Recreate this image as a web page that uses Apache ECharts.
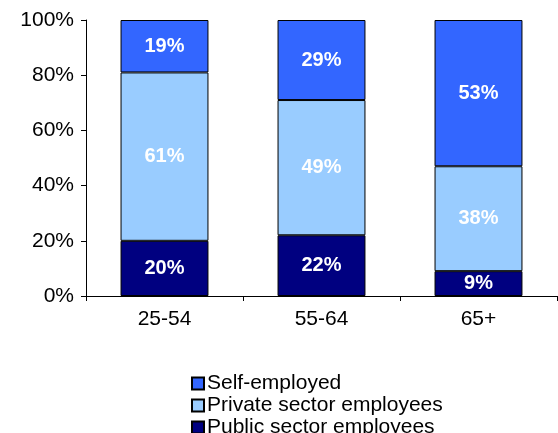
<!DOCTYPE html>
<html><head><meta charset="utf-8">
<script src="https://cdn.jsdelivr.net/npm/echarts@6/dist/echarts.min.js"></script>
<style>html,body{margin:0;background:#fff}#c{width:558px;height:433px}</style>
</head><body><div id="c"></div>
<script>
const categories = ['25-54', '55-64', '65+'];
const publicSector = [20, 22, 9];
const privateSector = [61, 49, 38];
const selfEmployed = [19, 29, 53];
const yTicks = [0, 20, 40, 60, 80, 100];

const chart = echarts.init(document.getElementById('c'));
const font = 'Arial, "Liberation Sans", sans-serif';
const mk = (name, data, color) => ({
  name, type: 'bar', stack: 'a', data, barWidth: '56%',
  itemStyle: { color, borderColor: '#000', borderWidth: 1 },
  label: { show: true, formatter: '{c}%', color: '#fff', fontWeight: 'bold', fontSize: 20, fontFamily: font },
});
chart.setOption({
  animation: false,
  grid: { left: 86, right: 1, top: 20, bottom: 137 },
  xAxis: {
    type: 'category', data: categories,
    axisLine: { lineStyle: { color: '#000' } },
    axisTick: { show: true, length: 5, lineStyle: { color: '#000' } },
    axisLabel: { color: '#000', fontSize: 21, fontFamily: font, margin: 13 },
  },
  yAxis: {
    type: 'value', min: 0, max: 100, interval: 20,
    axisLine: { show: true, lineStyle: { color: '#000' } },
    axisTick: { show: true, length: 5, lineStyle: { color: '#000' } },
    splitLine: { show: false },
    axisLabel: { color: '#000', fontSize: 21, fontFamily: font, margin: 12,
      formatter: v => yTicks.includes(v) ? v + '%' : '' },
  },
  legend: {
    orient: 'vertical', left: 186, top: 368, height: 80, itemGap: 1,
    itemWidth: 12, itemHeight: 12, icon: 'rect',
    textStyle: { color: '#000', fontSize: 21, fontFamily: font, padding: [0, 0, 0, -2] },
    data: ['Self-employed', 'Private sector employees', 'Public sector employees'],
  },
  series: [
    mk('Public sector employees', publicSector, '#000080'),
    mk('Private sector employees', privateSector, '#99ccff'),
    mk('Self-employed', selfEmployed, '#3366ff'),
  ],
});
</script></body></html>
